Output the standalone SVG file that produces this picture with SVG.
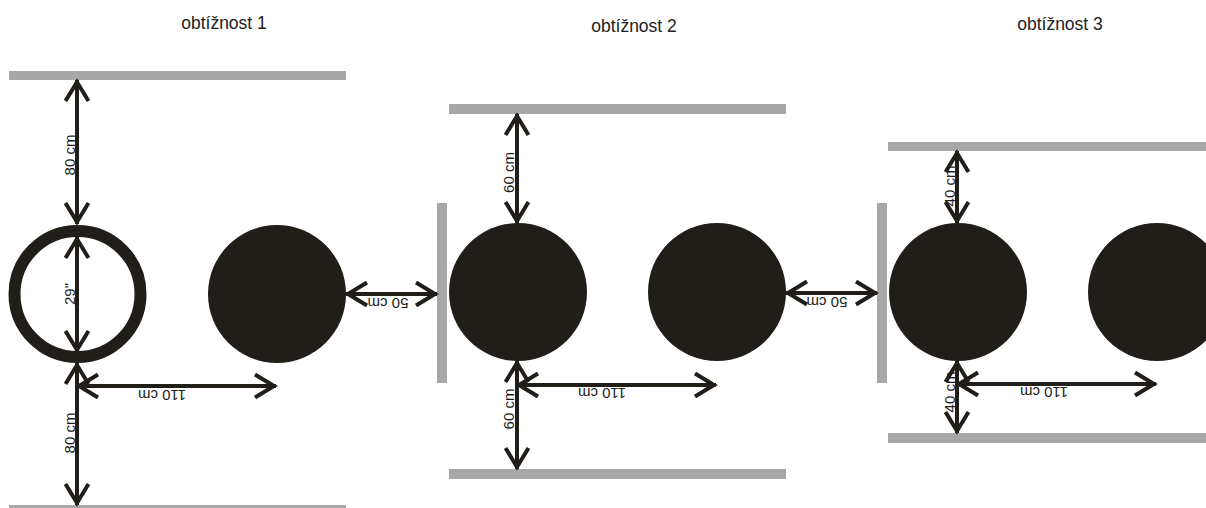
<svg xmlns="http://www.w3.org/2000/svg" width="1206" height="508" viewBox="0 0 1206 508">
<style>
.bar{fill:#a7a7a7}
.disc{fill:#211e1a}
.ring{fill:none;stroke:#211e1a;stroke-width:12}
.dim{stroke:#211e1a;stroke-width:4;fill:none;marker-start:url(#ah);marker-end:url(#ah)}
.title{font-family:"Liberation Sans",Arial,sans-serif;font-size:17.5px;fill:#222;text-anchor:middle}
.lbl{font-family:"Liberation Sans",Arial,sans-serif;font-size:15px;fill:#211e1a;text-anchor:middle}
</style>
<defs>
<marker id="ah" markerUnits="userSpaceOnUse" viewBox="-26 -16 32 32" markerWidth="32" markerHeight="32" refX="0" refY="0" orient="auto-start-reverse">
<path d="M-21,-11.5 L-2,0 L-21,11.5" fill="none" stroke="#211e1a" stroke-width="4"/>
</marker>
</defs>
<rect width="1206" height="508" fill="#fff"/>

<g id="titles">
<text class="title" x="224" y="29">obtížnost 1</text>
<text class="title" x="634" y="32">obtížnost 2</text>
<text class="title" x="1060" y="30">obtížnost 3</text>
</g>

<g id="panel1">
<rect class="bar" x="9" y="71" width="337" height="9"/>
<rect class="bar" x="9" y="505" width="337" height="9"/>
<circle class="ring" cx="77.5" cy="294" r="63"/>
<circle class="disc" cx="277" cy="294" r="69"/>
</g>

<g id="panel2">
<rect class="bar" x="449" y="104" width="337" height="10"/>
<rect class="bar" x="449" y="469" width="337" height="10"/>
<rect class="bar" x="437" y="203" width="10" height="180"/>
<circle class="disc" cx="518" cy="292" r="69"/>
<circle class="disc" cx="717" cy="292" r="69"/>
</g>

<g id="panel3">
<rect class="bar" x="888" y="142" width="318" height="9"/>
<rect class="bar" x="888" y="433" width="318" height="10"/>
<rect class="bar" x="877" y="203" width="10" height="180"/>
<circle class="disc" cx="958" cy="292" r="69"/>
<circle class="disc" cx="1157" cy="292" r="69"/>
</g>

<g id="connectors">
<line class="dim" x1="77" y1="80" x2="77" y2="224"/>
<line class="dim" x1="77" y1="237" x2="77" y2="352"/>
<line class="dim" x1="77" y1="363" x2="77" y2="505"/>
<line class="dim" x1="77" y1="386" x2="276" y2="386"/>
<line class="dim" x1="346" y1="294" x2="437" y2="294"/>
<line class="dim" x1="517" y1="114" x2="517" y2="223"/>
<line class="dim" x1="517" y1="361" x2="517" y2="469"/>
<line class="dim" x1="517" y1="385" x2="716" y2="385"/>
<line class="dim" x1="786" y1="293" x2="877" y2="293"/>
<line class="dim" x1="957" y1="151" x2="957" y2="223"/>
<line class="dim" x1="957" y1="361" x2="957" y2="433"/>
<line class="dim" x1="957" y1="384" x2="1156" y2="384"/>
</g>

<g id="labels">
<text class="lbl" transform="translate(75,155) rotate(-90)">80 cm</text>
<text class="lbl" transform="translate(75,294) rotate(-90)">29"</text>
<text class="lbl" transform="translate(75,433) rotate(-90)">80 cm</text>
<text class="lbl" transform="translate(162,390) rotate(180)">110 cm</text>
<text class="lbl" transform="translate(388,298) rotate(180)">50 cm</text>
<text class="lbl" transform="translate(514,172.5) rotate(-90)">60 cm</text>
<text class="lbl" transform="translate(514,409) rotate(-90)">60 cm</text>
<text class="lbl" transform="translate(602,388) rotate(180)">110 cm</text>
<text class="lbl" transform="translate(827,297) rotate(180)">50 cm</text>
<text class="lbl" transform="translate(955,186) rotate(-90)">40 cm</text>
<text class="lbl" transform="translate(955,392) rotate(-90)">40 cm</text>
<text class="lbl" transform="translate(1044,387) rotate(180)">110 cm</text>
</g>
</svg>
